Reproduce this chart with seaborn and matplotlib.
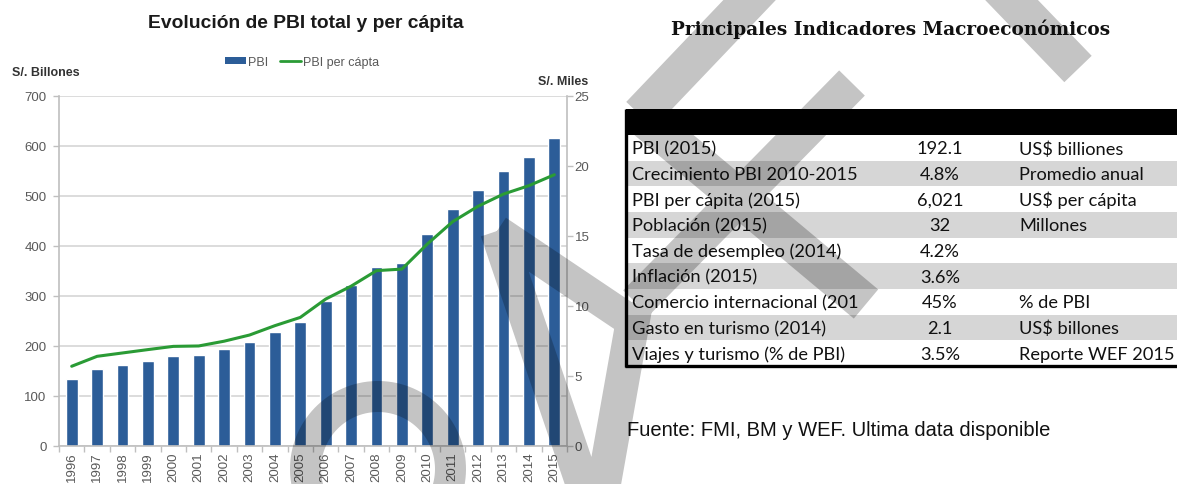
import numpy as np
import pandas as pd
import matplotlib
matplotlib.use("Agg")
import matplotlib.pyplot as plt
import seaborn as sns
from matplotlib.patches import Patch, PathPatch, Rectangle
from matplotlib.lines import Line2D
from matplotlib.path import Path
from matplotlib.textpath import TextPath
from matplotlib.font_manager import FontProperties

# ---- data -------------------------------------------------------------
years = [str(y) for y in range(1996, 2016)]
pbi_total = [134, 154, 162, 169, 180, 182, 193, 208, 228, 247,
             289, 321, 358, 366, 423, 473, 511, 550, 578, 616]          # S/. billones
pbi_per_capita = [5.66, 6.37, 6.61, 6.85, 7.08, 7.11, 7.45, 7.89, 8.56, 9.15,
                  10.46, 11.38, 12.49, 12.60, 14.39, 15.99, 17.09, 17.96, 18.56, 19.34]  # S/. miles
left_ticks = [0, 100, 200, 300, 400, 500, 600, 700]
right_ticks = [0, 5, 10, 15, 20, 25]

indicadores = ["PBI (2015)", "Crecimiento PBI 2010-2015", "PBI per cápita (2015)",
               "Población (2015)", "Tasa de desempleo (2014)", "Inflación (2015)",
               "Comercio internacional (201", "Gasto en turismo (2014)",
               "Viajes y turismo (% de PBI)"]
valores = ["192.1", "4.8%", "6,021", "32", "4.2%", "3.6%", "45%", "2.1", "3.5%"]
unidades = ["US$ billiones", "Promedio anual", "US$ per cápita", "Millones", "", "",
            "% de PBI", "US$ billones", "Reporte WEF 2015"]

# ---- style ------------------------------------------------------------
BLUE = "#2C5D98"
GREEN = "#2A9B35"
GRID = "#D9D9D9"
AXIS = "#BFBFBF"
TICKTXT = "#595959"

sns.set_theme(style="white")
plt.rcParams["font.family"] = ["Liberation Sans", "DejaVu Sans"]

W, H = 1177, 485
fig = plt.figure(figsize=(W / 100, H / 100), dpi=100)


def size_for_width(text, target_px, **fp):
    """Font size (pt) that makes `text` about `target_px` pixels wide."""
    ext = TextPath((0, 0), text, size=10, prop=FontProperties(**fp)).get_extents()
    return 7.2 * target_px / ext.width


# ---- left chart: GDP bars + per-capita line -------------------------
ax = fig.add_axes([59 / W, 1 - 446.5 / H, (567 - 59) / W, 350 / H])
df = pd.DataFrame({"anio": years, "pbi": pbi_total, "pc": pbi_per_capita})
sns.barplot(data=df, x="anio", y="pbi", color=BLUE, saturation=1, width=0.47,
            errorbar=None, ax=ax, zorder=2)
ax.set_xlim(-0.5, len(years) - 0.5)
ax.set_ylim(0, 700)
ax.set_yticks(left_ticks)
ax.yaxis.grid(True, color=GRID, linewidth=1.3)
ax.set_axisbelow(True)
ax.set_xlabel("")
ax.set_ylabel("")
for side in ["top", "right"]:
    ax.spines[side].set_visible(False)
for side in ["left", "bottom"]:
    ax.spines[side].set_color(AXIS)
    ax.spines[side].set_linewidth(1.2)
ax.tick_params(axis="y", left=True, length=4, width=1, color=AXIS, pad=5,
               labelsize=9.5, labelcolor=TICKTXT)
ax.tick_params(axis="x", which="major", length=0, pad=4.5, labelsize=9.5,
               labelcolor=TICKTXT, labelrotation=90)
ax.set_xticks(np.arange(-0.5, len(years), 1), minor=True)
ax.tick_params(axis="x", which="minor", bottom=True, length=4, width=1, color=AXIS)

ax2 = ax.twinx()
sns.lineplot(x=np.arange(len(years)), y=pbi_per_capita, ax=ax2, color=GREEN,
             linewidth=2.2)
ax2.set_ylim(0, 25)
ax2.set_yticks(right_ticks)
ax2.set_xlim(-0.5, len(years) - 0.5)
ax2.grid(False)
for side in ["top", "left", "bottom"]:
    ax2.spines[side].set_visible(False)
ax2.spines["right"].set_color(AXIS)
ax2.spines["right"].set_linewidth(1.2)
ax2.tick_params(axis="y", right=True, length=4, width=1, color=AXIS, pad=1.5,
                labelsize=9.5, labelcolor=TICKTXT)
ax2.set_ylabel("")

title_l = "Evolución de PBI total y per cápita"
fig.text(305.5 / W, 1 - 28.5 / H, title_l, ha="center", va="baseline",
         fontsize=size_for_width(title_l, 315, family="Liberation Sans", weight="bold"),
         fontweight="bold", color="#1A1A1A")
fig.text(12 / W, 1 - 76.5 / H, "S/. Billones", ha="left", va="baseline",
         fontsize=9, fontweight="bold", color="#333333")
fig.text(588 / W, 1 - 85 / H, "S/. Miles", ha="right", va="baseline",
         fontsize=9, fontweight="bold", color="#333333")

handles = [Patch(facecolor=BLUE, edgecolor="none", label="PBI"),
           Line2D([0], [0], color=GREEN, lw=2, label="PBI per cápta")]
fig.legend(handles=handles, loc="center", bbox_to_anchor=(302 / W, 1 - 63 / H),
           ncol=2, frameon=False, fontsize=9, handlelength=1.7, handleheight=0.5,
           handletextpad=0.15, columnspacing=0.9, labelcolor=TICKTXT,
           borderpad=0, borderaxespad=0)

# ---- right panel: indicator table (pixel-based overlay) --------------
tab = fig.add_axes([0, 0, 1, 1])
tab.set_xlim(0, W)
tab.set_ylim(H, 0)
tab.axis("off")

title_r = "Principales Indicadores Macroeconómicos"
tab.text(891, 35, title_r, ha="center", va="baseline",
         fontsize=size_for_width(title_r, 437, family="DejaVu Serif", weight="bold"),
         family="DejaVu Serif", fontweight="bold", color="#111111")

top, head_h, row_h, left = 110, 26, 25.67, 626
tab.add_patch(Rectangle((left, top), W + 10 - left, head_h, facecolor="black",
                        edgecolor="none"))
row_size = size_for_width("Crecimiento PBI 2010-2015", 224, family="Lato")
for i, (ind, val, uni) in enumerate(zip(indicadores, valores, unidades)):
    y0 = top + head_h + i * row_h
    tab.add_patch(Rectangle((left, y0), W + 10 - left, row_h,
                            facecolor="#D6D6D6" if i % 2 else "white",
                            edgecolor="none"))
    yc = y0 + row_h / 2 + 0.5
    for x, s, ha in [(632, ind, "left"), (940, val, "center"), (1019, uni, "left")]:
        tab.text(x, yc, s, ha=ha, va="center", family="Lato",
                 fontsize=row_size, color="#111111")
bottom = top + head_h + len(indicadores) * row_h
tab.plot([left, left], [top, bottom + 1], color="black", lw=2.4,
         solid_capstyle="butt")
tab.plot([left - 1, W + 10], [bottom, bottom], color="black", lw=2.4,
         solid_capstyle="butt")

fuente = "Fuente: FMI, BM y WEF. Ultima data disponible"
tab.text(627, 436.5, fuente, ha="left", va="baseline",
         fontsize=size_for_width(fuente, 421, family="Liberation Sans"),
         color="#111111")


# ---- grey watermark strokes across the page -------------------------
def band(p0, p1, w):
    (x0, y0), (x1, y1) = p0, p1
    d = np.array([x1 - x0, y1 - y0], float)
    n = np.array([-d[1], d[0]]) / np.hypot(*d) * w / 2
    pts = [np.array(p0) + n, np.array(p1) + n, np.array(p1) - n, np.array(p0) - n]
    return np.array(pts)


def oriented(poly):
    x, y = poly[:, 0], poly[:, 1]
    area = 0.5 * np.sum(x * np.roll(y, -1) - np.roll(x, -1) * y)
    return poly if area > 0 else poly[::-1]


polys = [
    band((762, -12), (640, 116), 38),
    band((640, 116), (866, 305), 38),
    band((852, 84), (636, 304), 36),
    band((636, 304), (603, 490), 34),
    band((999, -12), (1078, 70), 38),
    band((497, 232), (640, 328), 32),
    band((497, 232), (585, 492), 34),
]
# arch
cx, cy, r_out, r_in = 378, 470, 88, 57
t = np.linspace(-0.35, np.pi + 0.35, 80)
outer = np.c_[cx + r_out * np.cos(t), cy - r_out * np.sin(t)]
inner = np.c_[cx + r_in * np.cos(t[::-1]), cy - r_in * np.sin(t[::-1])]
polys.append(np.vstack([outer, inner]))

verts, codes = [], []
for p in polys:
    p = oriented(p)
    verts.extend(p.tolist() + [p[0].tolist()])
    codes.extend([Path.MOVETO] + [Path.LINETO] * (len(p) - 1) + [Path.CLOSEPOLY])
tab.add_patch(PathPatch(Path(verts, codes), facecolor=(0, 0, 0, 0.23),
                        edgecolor="none", zorder=10))

fig.savefig("out.png", dpi=100)
